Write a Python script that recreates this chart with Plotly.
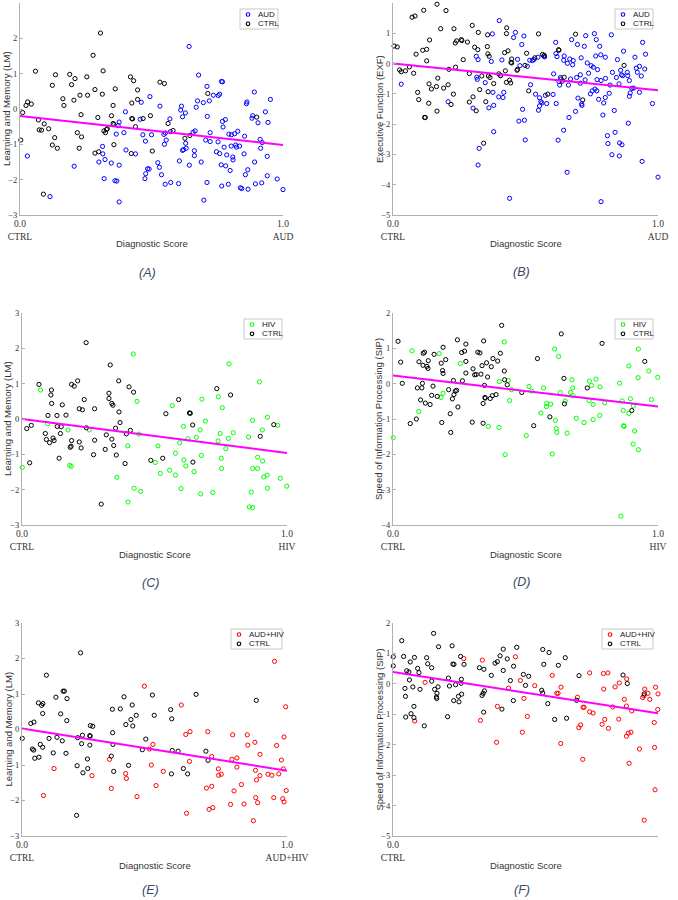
import plotly.graph_objects as go

# ---------------- DATA ----------------
# Panel A: Learning and Memory vs AUD diagnostic score
A_ctrl = [(0.003,-0.88),(0.010,-0.10),(0.023,0.10),(0.029,0.20),(0.043,0.14),(0.059,1.07),(0.070,-0.31),(0.073,-0.59),(0.082,-0.60),(0.092,-0.42),(0.089,-2.41),(0.109,-0.56),(0.123,0.67),(0.123,-1.02),(0.132,-0.81),(0.135,0.97),(0.142,-1.11),(0.163,0.29),(0.167,0.10),(0.189,0.98),(0.196,0.69),(0.205,0.25),(0.209,0.86),(0.218,-0.67),(0.225,-1.11),(0.228,0.39),(0.232,-0.16),(0.234,-0.79),(0.254,0.91),(0.257,0.39),(0.278,1.52),(0.285,0.55),(0.285,-1.25),(0.296,-0.24),(0.299,-1.21),(0.306,2.15),(0.313,0.42),(0.316,1.08),(0.319,-0.62),(0.325,-0.67),(0.329,-0.58),(0.332,-0.56),(0.348,-0.19),(0.354,0.10),(0.354,-0.41),(0.357,-0.44),(0.357,-1.01),(0.362,0.57),(0.420,0.91),(0.425,0.17),(0.425,-0.27),(0.428,-0.28),(0.432,0.80),(0.423,-1.26),(0.439,-0.50),(0.447,0.27),(0.447,0.54),(0.468,-0.27),(0.496,-0.19),(0.503,-1.19),(0.532,0.76),(0.549,0.72),(0.563,-0.41),(0.582,-0.61),(0.627,-0.83),(0.646,-0.75),(0.714,0.44),(0.900,-0.23)]
A_aud = [(0.028,-1.33),(0.114,-2.48),(0.206,-1.62),(0.300,-1.50),(0.314,-1.06),(0.315,-1.27),(0.320,-1.97),(0.323,-1.43),(0.347,-1.53),(0.361,-2.03),(0.368,-2.04),(0.366,-0.71),(0.373,-0.47),(0.377,-0.37),(0.377,-1.59),(0.377,-2.63),(0.395,-0.67),(0.401,-0.08),(0.403,-1.16),(0.439,-1.27),(0.457,-0.29),(0.461,0.19),(0.467,-0.73),(0.475,-1.97),(0.477,-0.91),(0.478,-1.83),(0.485,-1.69),(0.491,-1.70),(0.494,0.35),(0.500,-0.73),(0.524,-1.52),(0.530,-1.65),(0.532,0.08),(0.538,-1.86),(0.547,-0.72),(0.549,-1.00),(0.553,-0.68),(0.556,-0.88),(0.552,-2.13),(0.570,-0.28),(0.573,-2.08),(0.572,-0.64),(0.603,-2.11),(0.606,-1.47),(0.611,-0.03),(0.614,0.08),(0.618,-0.22),(0.618,-1.17),(0.622,-1.15),(0.629,-0.11),(0.630,-0.97),(0.632,-1.11),(0.643,1.77),(0.644,-1.59),(0.658,-0.66),(0.663,-1.18),(0.663,-1.32),(0.666,-0.62),(0.670,0.05),(0.675,0.23),(0.679,0.96),(0.689,-1.50),(0.699,-2.58),(0.697,0.18),(0.706,-0.88),(0.711,0.64),(0.711,-2.08),(0.712,-0.21),(0.720,0.23),(0.723,-0.67),(0.723,-0.92),(0.735,0.39),(0.747,-1.21),(0.753,-0.93),(0.754,0.38),(0.759,0.42),(0.759,-1.26),(0.765,-1.58),(0.766,0.78),(0.770,0.77),(0.767,-2.18),(0.770,-0.35),(0.772,-0.51),(0.776,-1.08),(0.781,-0.30),(0.782,-1.61),(0.786,-1.30),(0.792,-2.13),(0.794,-0.71),(0.799,-1.74),(0.803,-1.05),(0.804,-0.73),(0.809,-1.36),(0.810,-1.44),(0.816,-0.70),(0.820,-1.02),(0.823,-1.08),(0.828,-0.63),(0.835,-1.05),(0.838,-2.23),(0.843,-2.25),(0.852,-1.27),(0.854,-0.77),(0.857,-1.86),(0.861,0.15),(0.863,0.20),(0.866,-1.72),(0.867,-2.27),(0.882,-0.26),(0.885,-0.19),(0.891,0.48),(0.892,-1.50),(0.895,-2.12),(0.905,-0.39),(0.913,-0.86),(0.915,-1.11),(0.919,-2.09),(0.921,-0.95),(0.933,-0.08),(0.940,-1.34),(0.940,-1.89),(0.943,-0.38),(0.952,0.27),(0.978,-1.98),(1.000,-2.28)]
A_fit = [-0.20, -1.02]

# Panel B: Executive Function vs AUD diagnostic score
B_ctrl = [(0.004,0.58),(0.016,0.55),(0.025,-0.21),(0.031,-0.27),(0.047,-0.24),(0.062,-0.11),(0.072,1.53),(0.083,1.57),(0.078,-0.32),(0.087,0.31),(0.093,-0.95),(0.097,-1.19),(0.112,0.44),(0.116,1.76),(0.119,-1.78),(0.122,-1.78),(0.127,0.47),(0.127,0.09),(0.135,-1.31),(0.136,-0.67),(0.138,0.78),(0.145,-0.84),(0.164,-0.76),(0.166,1.96),(0.169,-0.48),(0.166,-1.57),(0.180,1.15),(0.191,-0.81),(0.200,1.75),(0.208,-0.70),(0.211,-0.19),(0.219,-1.35),(0.228,-1.01),(0.230,1.15),(0.235,0.68),(0.236,-0.12),(0.240,0.75),(0.258,0.79),(0.260,0.76),(0.265,0.13),(0.281,0.71),(0.288,-0.33),(0.288,-1.27),(0.299,1.26),(0.302,-1.10),(0.308,0.54),(0.314,-1.56),(0.320,0.46),(0.322,1.03),(0.327,-0.86),(0.335,-0.41),(0.350,-1.26),(0.356,0.56),(0.357,0.95),(0.358,0.32),(0.360,-0.41),(0.359,-0.93),(0.363,0.24),(0.366,-0.46),(0.342,-2.63),(0.380,-0.66),(0.399,-0.34),(0.405,-0.40),(0.421,0.36),(0.424,-0.24),(0.428,-0.62),(0.429,1.18),(0.428,0.99),(0.434,0.42),(0.440,-0.55),(0.444,-0.64),(0.445,0.04),(0.448,0.02),(0.448,0.15),(0.468,-0.22),(0.470,-0.19),(0.498,-0.06),(0.504,0.34),(0.512,-0.90),(0.535,0.19),(0.549,0.98),(0.564,0.30),(0.571,0.27),(0.584,-1.01),(0.625,0.46),(0.626,0.44),(0.639,-0.58),(0.646,-0.45),(0.689,0.97),(0.716,-1.20),(0.872,-0.06)]
B_aud = [(0.031,-0.68),(0.208,-1.26),(0.302,-1.47),(0.314,0.24),(0.316,-0.45),(0.318,-0.52),(0.321,0.13),(0.321,-3.35),(0.325,-2.80),(0.348,-0.63),(0.362,-1.46),(0.371,0.07),(0.375,0.98),(0.377,-0.95),(0.380,-1.38),(0.380,-2.25),(0.401,1.42),(0.406,-0.40),(0.411,0.12),(0.399,-1.10),(0.415,-1.12),(0.418,-0.95),(0.440,-4.45),(0.455,0.86),(0.462,1.03),(0.470,0.14),(0.475,-1.90),(0.479,-0.07),(0.486,0.63),(0.489,-1.51),(0.494,0.91),(0.496,-1.87),(0.499,-2.52),(0.507,-0.09),(0.516,0.11),(0.519,-0.70),(0.526,0.10),(0.532,0.13),(0.538,-1.01),(0.547,0.21),(0.549,-1.54),(0.553,-1.13),(0.553,-1.40),(0.558,-1.26),(0.562,-1.30),(0.569,0.25),(0.575,-1.05),(0.580,-1.32),(0.572,0.22),(0.604,-1.02),(0.606,-0.34),(0.614,0.70),(0.615,0.33),(0.616,-1.32),(0.619,0.23),(0.623,-2.53),(0.626,-0.59),(0.629,-0.71),(0.632,-0.46),(0.634,-0.51),(0.644,-2.20),(0.644,0.11),(0.646,0.25),(0.657,-3.59),(0.658,0.01),(0.662,-0.71),(0.664,-1.78),(0.667,0.15),(0.670,-0.51),(0.674,0.79),(0.678,-0.04),(0.680,0.10),(0.689,-1.58),(0.693,-0.46),(0.696,0.63),(0.698,-1.14),(0.707,-0.37),(0.707,-0.65),(0.710,0.19),(0.712,-1.33),(0.713,-1.38),(0.722,0.57),(0.725,-0.54),(0.727,0.92),(0.733,0.02),(0.738,-0.32),(0.745,-1.00),(0.748,-0.07),(0.752,-0.90),(0.756,-0.12),(0.760,0.99),(0.762,-0.84),(0.765,0.25),(0.767,0.79),(0.769,-0.90),(0.770,-0.53),(0.772,-0.20),(0.776,-1.18),(0.780,0.57),(0.784,0.29),(0.785,-0.56),(0.785,-4.56),(0.792,-1.70),(0.795,-1.30),(0.801,0.21),(0.801,-1.12),(0.802,-0.49),(0.809,-2.38),(0.811,-2.64),(0.816,-0.98),(0.819,-0.71),(0.824,0.95),(0.826,-3.01),(0.828,-0.29),(0.835,-1.55),(0.838,-2.27),(0.843,-0.46),(0.847,0.13),(0.853,-0.67),(0.854,-3.05),(0.855,-2.62),(0.859,-0.22),(0.862,-0.37),(0.864,-2.68),(0.867,-0.40),(0.870,0.41),(0.884,-0.29),(0.886,-0.40),(0.888,-1.97),(0.892,-0.56),(0.892,-1.08),(0.895,-0.97),(0.901,-0.82),(0.908,-0.81),(0.913,0.21),(0.918,-0.15),(0.922,-0.29),(0.930,-0.95),(0.930,-0.09),(0.937,-0.41),(0.940,-3.23),(0.942,0.70),(0.950,-0.18),(0.953,0.31),(0.979,-1.32),(1.000,-3.75)]
B_fit = [0.00, -0.88]

# Panel C: Learning and Memory vs HIV diagnostic score
C_ctrl = [(0.018,-0.27),(0.029,-1.24),(0.035,-0.18),(0.064,0.98),(0.088,-0.41),(0.092,-0.58),(0.098,0.10),(0.104,-0.67),(0.109,0.68),(0.111,0.82),(0.112,0.44),(0.117,-0.54),(0.121,-0.61),(0.132,0.10),(0.133,-0.21),(0.140,-1.11),(0.145,-0.41),(0.148,-0.22),(0.152,0.40),(0.166,0.11),(0.182,-0.80),(0.185,-0.77),(0.187,-0.61),(0.187,0.98),(0.197,0.93),(0.210,1.08),(0.216,0.29),(0.216,-0.65),(0.223,-0.82),(0.228,0.26),(0.235,0.55),(0.242,2.16),(0.243,-0.25),(0.270,-1.01),(0.274,0.29),(0.274,-0.60),(0.299,-2.41),(0.314,-0.86),(0.318,-0.45),(0.328,0.73),(0.328,0.58),(0.333,1.53),(0.339,0.44),(0.343,0.39),(0.339,-0.57),(0.346,-0.75),(0.353,-0.26),(0.356,-1.02),(0.365,1.08),(0.366,0.20),(0.370,-0.10),(0.389,-1.26),(0.394,-0.42),(0.404,0.91),(0.409,-0.32),(0.421,0.76),(0.486,-1.17),(0.531,-1.11),(0.543,0.15),(0.591,0.55),(0.632,0.17),(0.635,0.16),(0.644,-0.17),(0.645,-1.22),(0.735,0.86),(0.787,0.68),(0.899,-0.49),(0.950,-0.16)]
C_hiv = [(0.001,-1.37),(0.070,0.82),(0.097,-0.13),(0.174,-0.31),(0.180,-1.31),(0.186,-1.34),(0.254,-0.31),(0.358,-1.65),(0.399,-0.76),(0.400,-2.35),(0.420,1.84),(0.423,-1.96),(0.434,0.50),(0.441,-0.43),(0.448,-2.05),(0.503,-1.23),(0.513,-0.76),(0.522,-1.54),(0.557,-1.45),(0.567,0.38),(0.579,-0.97),(0.579,-1.59),(0.595,-0.67),(0.600,-1.97),(0.609,-0.21),(0.611,-1.16),(0.618,-1.33),(0.626,-0.56),(0.633,0.17),(0.649,-1.49),(0.658,-0.52),(0.672,-0.31),(0.674,-2.12),(0.677,-1.03),(0.679,0.56),(0.692,-0.06),(0.720,-2.08),(0.740,-0.62),(0.741,0.63),(0.748,-0.41),(0.752,-1.11),(0.753,-1.40),(0.756,0.32),(0.769,-0.84),(0.779,-0.55),(0.781,1.56),(0.797,-0.39),(0.855,-0.51),(0.858,-2.49),(0.865,-2.07),(0.870,-2.51),(0.870,-0.04),(0.870,-1.40),(0.889,-1.08),(0.889,-1.40),(0.896,1.05),(0.907,-0.31),(0.908,-1.19),(0.912,-1.64),(0.925,-1.59),(0.926,0.05),(0.926,-1.96),(0.965,-0.18),(0.975,-1.68),(0.999,-1.90)]
C_fit = [0.00, -0.96]

# Panel D: Speed of Information Processing vs HIV diagnostic score
D_ctrl = [(0.019,1.20),(0.029,0.61),(0.035,0.01),(0.065,-1.13),(0.088,-1.00),(0.092,-0.12),(0.098,0.62),(0.104,-0.46),(0.109,-0.12),(0.111,0.01),(0.113,0.52),(0.114,0.86),(0.119,0.89),(0.122,-0.55),(0.128,0.49),(0.132,0.43),(0.133,0.65),(0.140,-0.59),(0.146,-0.33),(0.151,-0.07),(0.155,0.83),(0.167,-0.36),(0.184,-1.10),(0.182,0.58),(0.187,0.37),(0.189,0.29),(0.189,1.03),(0.199,0.68),(0.210,-0.17),(0.216,-0.85),(0.218,-1.38),(0.224,-0.43),(0.228,0.09),(0.230,-0.31),(0.235,-0.21),(0.240,-0.19),(0.243,1.24),(0.245,-0.66),(0.259,0.88),(0.262,0.08),(0.270,0.92),(0.275,0.30),(0.275,0.63),(0.275,1.12),(0.299,-1.09),(0.302,0.42),(0.308,0.25),(0.314,0.26),(0.320,0.89),(0.328,0.87),(0.332,0.27),(0.336,0.51),(0.340,-0.56),(0.340,-1.12),(0.342,1.21),(0.345,-0.05),(0.347,-0.39),(0.348,-0.41),(0.353,0.59),(0.357,0.19),(0.367,-0.42),(0.371,0.48),(0.375,-0.34),(0.377,0.71),(0.389,-0.31),(0.395,0.64),(0.405,0.86),(0.410,1.65),(0.420,0.36),(0.421,0.11),(0.431,-0.03),(0.486,-0.25),(0.531,-1.19),(0.545,0.71),(0.592,-0.94),(0.635,1.41),(0.645,0.15),(0.647,-0.57),(0.733,-0.12),(0.789,1.14),(0.901,-0.76),(0.950,0.63)]
D_hiv = [(0.001,-1.53),(0.072,0.93),(0.097,-0.79),(0.174,0.85),(0.181,-0.39),(0.189,-0.27),(0.254,0.57),(0.360,-1.21),(0.400,-1.24),(0.401,0.06),(0.420,1.18),(0.423,-2.01),(0.435,0.09),(0.440,-0.48),(0.447,-0.17),(0.503,-1.47),(0.513,-0.08),(0.523,-0.21),(0.558,-0.83),(0.568,-0.12),(0.579,-0.65),(0.580,-0.56),(0.595,-0.58),(0.601,-1.99),(0.610,0.98),(0.613,-1.04),(0.616,-1.27),(0.618,-1.38),(0.625,0.77),(0.631,-0.25),(0.650,-0.49),(0.657,-1.40),(0.670,-0.25),(0.675,0.11),(0.678,-0.12),(0.679,-0.34),(0.692,-0.98),(0.721,-1.10),(0.740,-0.48),(0.741,0.07),(0.749,-0.05),(0.755,-0.59),(0.755,-1.02),(0.766,0.13),(0.780,-0.90),(0.781,-0.09),(0.799,-0.54),(0.855,0.01),(0.865,-0.49),(0.869,-0.76),(0.870,-1.19),(0.872,-1.21),(0.860,-3.75),(0.890,0.50),(0.890,-0.84),(0.896,-0.43),(0.906,-1.71),(0.907,-0.63),(0.912,-1.34),(0.925,0.17),(0.926,0.98),(0.926,-1.87),(0.965,0.36),(0.975,-0.45),(0.999,0.18)]
D_fit = [0.23, -0.65]

# Panel E: Learning and Memory vs AUD+HIV diagnostic score
E_ctrl = [(0.001,-0.25),(0.033,0.17),(0.039,-0.55),(0.044,-0.58),(0.045,0.21),(0.048,-0.81),(0.062,0.75),(0.064,-0.78),(0.069,-0.42),(0.074,0.68),(0.078,0.45),(0.078,-0.50),(0.079,0.73),(0.092,1.53),(0.102,-0.25),(0.118,-0.66),(0.128,0.91),(0.132,-0.22),(0.146,0.44),(0.152,-0.32),(0.155,1.08),(0.160,1.08),(0.166,-0.67),(0.169,0.25),(0.170,0.87),(0.208,-1.02),(0.206,-2.42),(0.210,-0.23),(0.221,2.16),(0.225,-0.40),(0.228,-0.16),(0.230,-1.22),(0.247,-0.83),(0.248,-1.10),(0.256,-0.17),(0.256,-0.44),(0.257,-0.19),(0.258,0.11),(0.267,0.09),(0.337,-0.75),(0.341,0.57),(0.342,-0.09),(0.343,-0.42),(0.346,-1.18),(0.371,0.58),(0.385,0.92),(0.392,0.14),(0.402,-1.01),(0.411,0.28),(0.416,0.69),(0.418,0.10),(0.431,0.40),(0.454,-0.57),(0.467,-0.27),(0.492,0.97),(0.499,0.40),(0.561,0.56),(0.565,0.30),(0.567,-0.59),(0.564,-1.25),(0.589,-0.61),(0.609,-1.10),(0.625,-1.25),(0.657,0.99),(0.694,-0.61),(0.702,-0.87),(0.884,0.82)]
E_dual = [(0.081,-1.86),(0.121,-1.10),(0.264,-1.30),(0.330,-0.84),(0.337,-1.66),(0.391,-1.24),(0.394,-1.38),(0.434,-1.89),(0.462,1.22),(0.481,-0.55),(0.488,-1.00),(0.494,-0.42),(0.506,-1.58),(0.533,-1.18),(0.601,0.69),(0.618,-0.14),(0.621,-2.36),(0.632,-0.90),(0.634,-0.06),(0.696,-1.65),(0.701,-0.06),(0.706,-2.25),(0.716,-0.76),(0.716,-1.60),(0.720,-2.20),(0.741,-1.11),(0.742,-1.29),(0.752,-1.26),(0.787,-2.11),(0.792,-0.84),(0.795,-0.15),(0.800,-1.73),(0.811,-0.80),(0.811,-1.06),(0.828,-1.55),(0.838,-2.10),(0.850,-0.15),(0.852,-0.44),(0.873,-2.57),(0.879,-0.36),(0.881,-1.15),(0.882,-1.92),(0.885,-1.42),(0.889,-2.06),(0.898,-0.70),(0.898,-1.30),(0.928,-1.26),(0.943,-1.29),(0.950,-1.92),(0.953,1.92),(0.961,-0.45),(0.969,-1.25),(0.979,-0.86),(0.984,-1.95),(0.986,-1.11),(0.989,-0.21),(0.989,-2.04),(0.995,0.64),(0.997,-1.72)]
E_fit = [0.03, -1.16]

# Panel F: Speed of Information Processing vs AUD+HIV diagnostic score
F_ctrl = [(0.001,0.89),(0.001,0.59),(0.033,1.42),(0.040,0.90),(0.045,-0.15),(0.047,-0.41),(0.048,-1.09),(0.052,0.43),(0.060,0.39),(0.062,0.13),(0.065,0.72),(0.068,-0.98),(0.075,-0.10),(0.079,-0.74),(0.079,-1.11),(0.081,0.87),(0.093,0.51),(0.098,0.37),(0.102,-0.18),(0.118,-1.38),(0.127,0.86),(0.131,0.66),(0.146,0.53),(0.146,0.09),(0.153,1.66),(0.157,-0.18),(0.164,-0.43),(0.165,-0.48),(0.166,-0.31),(0.170,-0.10),(0.172,1.22),(0.206,-1.08),(0.209,0.19),(0.213,-0.07),(0.223,1.25),(0.226,0.65),(0.230,0.64),(0.229,-0.55),(0.236,-0.03),(0.247,-0.41),(0.249,-0.59),(0.255,0.90),(0.257,0.02),(0.259,-0.34),(0.258,0.15),(0.268,0.64),(0.326,0.53),(0.336,-0.38),(0.340,-0.31),(0.343,0.48),(0.345,-0.23),(0.342,-0.93),(0.371,0.28),(0.385,0.68),(0.394,0.73),(0.404,0.92),(0.411,-0.83),(0.416,0.44),(0.416,1.14),(0.431,0.82),(0.443,0.11),(0.454,-0.55),(0.455,0.58),(0.467,1.20),(0.492,0.31),(0.500,-0.05),(0.512,0.25),(0.561,-0.21),(0.565,1.13),(0.569,0.64),(0.565,-0.30),(0.584,-0.65),(0.589,1.03),(0.610,-1.17),(0.624,0.61),(0.650,0.86),(0.655,-1.13),(0.693,-0.54),(0.702,0.27),(0.868,0.29),(0.884,0.01),(0.948,-0.33)]
F_dual = [(0.082,-1.22),(0.121,0.05),(0.267,0.83),(0.330,-1.20),(0.337,0.78),(0.391,-1.92),(0.394,-0.74),(0.436,-0.14),(0.462,0.89),(0.481,0.11),(0.488,-1.59),(0.494,-0.48),(0.507,-1.07),(0.535,-0.06),(0.601,0.28),(0.618,-0.31),(0.623,-0.31),(0.633,-1.96),(0.634,-0.11),(0.696,-0.44),(0.701,-1.44),(0.708,-1.35),(0.716,-2.48),(0.717,-0.77),(0.721,-0.77),(0.742,0.36),(0.742,-0.92),(0.755,-0.96),(0.789,-1.33),(0.794,0.34),(0.795,-0.17),(0.799,-1.17),(0.811,0.36),(0.813,-1.46),(0.829,-0.76),(0.838,-0.10),(0.852,-1.16),(0.854,0.03),(0.873,-0.51),(0.881,-0.73),(0.881,-1.72),(0.882,0.16),(0.888,-1.62),(0.891,-2.61),(0.898,-1.59),(0.901,-0.89),(0.930,-2.14),(0.942,-0.45),(0.947,-0.39),(0.948,-4.48),(0.950,-0.17),(0.962,-0.31),(0.969,-0.51),(0.986,-1.27),(0.987,-2.09),(0.989,-3.48),(0.991,-0.11),(0.999,-0.84),(1.000,-0.33)]
F_fit = [0.39, -0.97]

fit_x = [0.0, 1.0]
x_tick_vals = [0, 1]
panel_letters = ["(A)", "(B)", "(C)", "(D)", "(E)", "(F)"]
group_names = ["AUD", "AUD", "HIV", "HIV", "AUD+HIV", "AUD+HIV"]
y_titles = ["Learning and Memory (LM)", "Executive Function (EXF)",
            "Learning and Memory (LM)", "Speed of Information Processing (SIP)",
            "Learning and Memory (LM)", "Speed of Information Processing (SIP)"]
y_ranges = [(-3, 3), (-5, 2), (-3, 3), (-4, 2), (-3, 3), (-5, 2)]

# ---------------- STYLE / LAYOUT ----------------
W, H = 678, 900
group_colors = {"AUD": "#0000ff", "HIV": "#00ff00", "AUD+HIV": "#ff0000"}
ctrl_color = "#000000"
fit_color = "#ff00ff"
# axes boxes in pixels: (left, right, top, bottom)
boxes = [(20, 283, 3, 215), (393, 658, 3, 215),
         (22, 287, 313, 525), (393, 658, 313, 525),
         (22, 287, 623, 836), (393, 658, 623, 836)]
label_y = [273, 272, 583, 582, 890, 890]
title_y = [244, 244, 554, 554, 865, 865]

panels = [(A_ctrl, A_aud, A_fit), (B_ctrl, B_aud, B_fit), (C_ctrl, C_hiv, C_fit),
          (D_ctrl, D_hiv, D_fit), (E_ctrl, E_dual, E_fit), (F_ctrl, F_dual, F_fit)]


def px(x):
    return x / W


def py(y):
    return 1 - y / H


serif = "Liberation Serif"
sans = "Liberation Sans"

fig = go.Figure()
layout = dict(width=W, height=H, margin=dict(l=0, r=0, t=0, b=0, pad=0, autoexpand=False),
              paper_bgcolor="white", plot_bgcolor="white", showlegend=False,
              template="none", hovermode=False)
annotations = []
shapes = []

for i, (ctrl, grp, fit) in enumerate(panels):
    n = i + 1
    xa = "x" if n == 1 else f"x{n}"
    ya = "y" if n == 1 else f"y{n}"
    l, r, t, b = boxes[i]
    gname = group_names[i]
    gcol = group_colors[gname]

    gx, gy = zip(*grp)
    cx, cy = zip(*ctrl)
    fig.add_trace(go.Scatter(x=gx, y=gy, mode="markers", name=gname, xaxis=xa, yaxis=ya,
                             cliponaxis=False,
                             marker=dict(symbol="circle-open", size=4.2, color=gcol,
                                         line=dict(width=1, color=gcol))))
    fig.add_trace(go.Scatter(x=cx, y=cy, mode="markers", name="CTRL", xaxis=xa, yaxis=ya,
                             cliponaxis=False,
                             marker=dict(symbol="circle-open", size=4.2, color=ctrl_color,
                                         line=dict(width=1, color=ctrl_color))))
    fig.add_trace(go.Scatter(x=fit_x, y=fit, mode="lines", name="fit", xaxis=xa, yaxis=ya,
                             line=dict(color=fit_color, width=2)))

    ymin, ymax = y_ranges[i]
    layout["xaxis" if n == 1 else f"xaxis{n}"] = dict(
        domain=[px(l), px(r)], anchor=ya, range=[0, 1], automargin=False,
        showgrid=False, zeroline=False,
        showline=True, linecolor="#b0b0b0", linewidth=1, ticks="inside", ticklen=3,
        tickcolor="#b0b0b0", tickvals=x_tick_vals,
        ticktext=["0.0<br>CTRL", "1.0<br>" + gname],
        tickfont=dict(family=serif, size=9.5, color="#333333"))
    layout["yaxis" if n == 1 else f"yaxis{n}"] = dict(
        domain=[py(b), py(t)], anchor=xa, range=[ymin, ymax], automargin=False,
        showgrid=False, zeroline=False,
        showline=True, linecolor="#b0b0b0", linewidth=1, ticks="inside", ticklen=3,
        tickcolor="#b0b0b0", tickmode="linear", tick0=ymin, dtick=1,
        tickfont=dict(family=serif, size=8.5, color="#333333"))

    # axis titles
    annotations.append(dict(xref="paper", yref="paper", x=px((l + r) / 2), y=py(title_y[i]),
                            text="Diagnostic Score", showarrow=False, xanchor="center", yanchor="middle",
                            font=dict(family=sans, size=9.5, color="#333333")))
    annotations.append(dict(xref="paper", yref="paper", x=px(l - 14), y=py((t + b) / 2),
                            text=y_titles[i], showarrow=False, textangle=-90,
                            xanchor="center", yanchor="middle",
                            font=dict(family=sans, size=9.5, color="#333333")))
    # panel letter
    annotations.append(dict(xref="paper", yref="paper", x=px((l + r) / 2 - 4), y=py(label_y[i]),
                            text="<i>" + panel_letters[i] + "</i>", showarrow=False,
                            xanchor="center", yanchor="middle",
                            font=dict(family=sans, size=12.5, color="#3c4a68")))

    # legend box (manual, compact)
    bw = 51 if len(gname) > 3 else 38
    bh = 20
    br = r - 5
    bt = t + 6
    bl = br - bw
    shapes.append(dict(type="rect", xref="paper", yref="paper", x0=px(bl), x1=px(br),
                       y0=py(bt + bh), y1=py(bt), line=dict(color="#c8c8c8", width=1),
                       fillcolor="white", layer="above"))
    for k, (nm, col) in enumerate([(gname, gcol), ("CTRL", ctrl_color)]):
        cyy = bt + 5.5 + k * 9.3
        cxx = bl + 8
        shapes.append(dict(type="circle", xref="paper", yref="paper",
                           x0=px(cxx - 1.8), x1=px(cxx + 1.8), y0=py(cyy + 1.8), y1=py(cyy - 1.8),
                           line=dict(color=col, width=1.1), layer="above"))
        annotations.append(dict(xref="paper", yref="paper", x=px(bl + 16), y=py(cyy),
                                text=nm, showarrow=False, xanchor="left", yanchor="middle",
                                font=dict(family=sans, size=8, color="#222222")))

layout["annotations"] = annotations
layout["shapes"] = shapes
fig.update_layout(**layout)
fig.write_html("out.html",
               config={"displayModeBar": False, "staticPlot": True},
               post_script="document.body.style.margin='0px';document.body.style.padding='0px';"
                           "document.documentElement.style.overflow='hidden';")
